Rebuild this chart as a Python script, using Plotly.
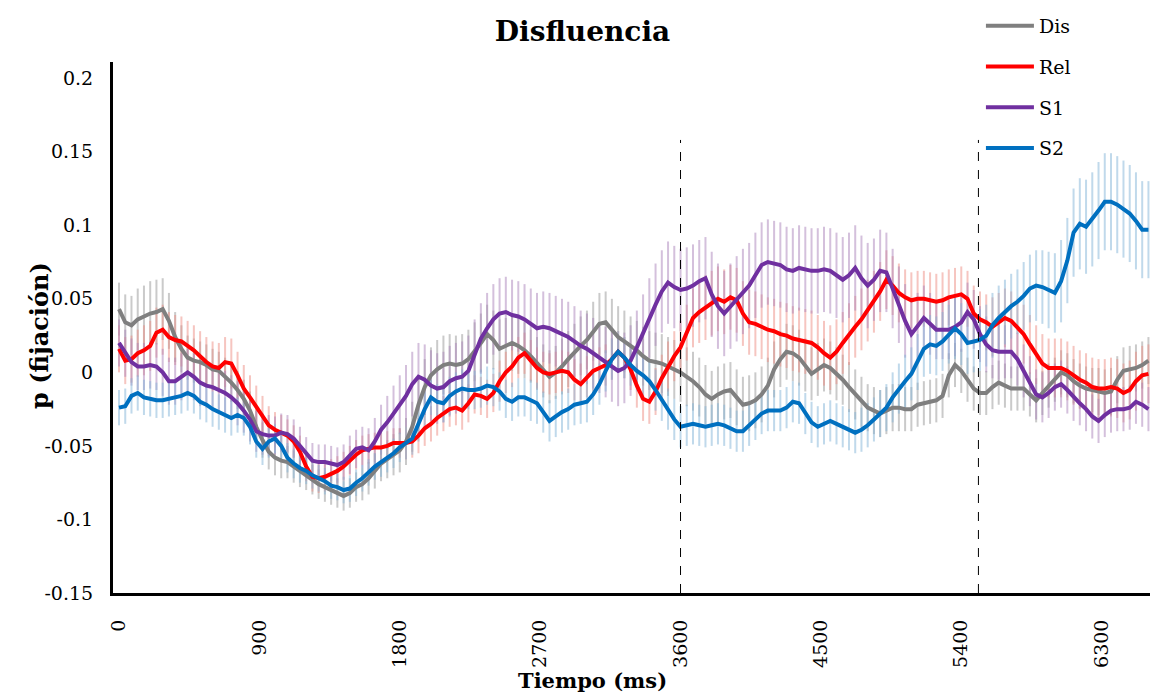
import plotly.graph_objects as go

# Sampling grid of the eye-tracking time course (ms)
time_ms = list(range(0, 6640, 40))

tick_vals = [0, 900, 1800, 2700, 3600, 4500, 5400, 6300]
tick_text = ["0", "900", "1800", "2700", "3600", "4500", "5400", "6300"]
y_ticks = [-0.15, -0.1, -0.05, 0, 0.05, 0.1, 0.15, 0.2]
y_tick_text = ["-0.15", "-0.1", "-0.05", "0", "0.05", "0.1", "0.15", "0.2"]

# Segment boundaries marked with dashed lines
segment_marks = [3600, 5510]
segment_top = 0.158

dis_mean = [
    0.043, 0.034, 0.032, 0.036, 0.038, 0.040, 0.041, 0.043, 0.035, 0.024,
    0.016, 0.010, 0.008, 0.007, 0.005, 0.002, 0.001, -0.003, -0.007, -0.012,
    -0.018, -0.026, -0.037, -0.046, -0.054, -0.058, -0.060, -0.061, -0.064, -0.067,
    -0.070, -0.073, -0.076, -0.078, -0.080, -0.082, -0.084, -0.082, -0.078, -0.076,
    -0.072, -0.067, -0.062, -0.059, -0.056, -0.053, -0.047, -0.037, -0.022, -0.010,
    -0.002, 0.002, 0.005, 0.006, 0.005, 0.006, 0.009, 0.014, 0.020, 0.026,
    0.022, 0.016, 0.018, 0.020, 0.018, 0.015, 0.011, 0.006, 0.001, -0.003,
    0.000, 0.004, 0.009, 0.014, 0.018, 0.022, 0.028, 0.033, 0.034, 0.029,
    0.024, 0.021, 0.018, 0.015, 0.011, 0.008, 0.007, 0.006, 0.004, 0.002,
    0.000, -0.003, -0.006, -0.010, -0.015, -0.018, -0.015, -0.013, -0.012, -0.017,
    -0.022, -0.021, -0.019, -0.015, -0.009, 0.002, 0.009, 0.014, 0.013, 0.010,
    0.005, -0.001, 0.002, 0.005, 0.003, -0.001, -0.005, -0.010, -0.015, -0.020,
    -0.024, -0.026, -0.028, -0.026, -0.024, -0.024, -0.025, -0.025, -0.022, -0.021,
    -0.020, -0.019, -0.016, -0.002, 0.005, 0.001, -0.005, -0.011, -0.014, -0.014,
    -0.010, -0.007, -0.009, -0.011, -0.011, -0.011, -0.015, -0.019, -0.014, -0.009,
    -0.005, 0.000, -0.002, -0.006, -0.009, -0.011, -0.012, -0.013, -0.014, -0.013,
    -0.005, 0.001, 0.002, 0.003, 0.005, 0.008,
]
dis_err = [
    0.018, 0.019, 0.020, 0.021, 0.021, 0.022, 0.022, 0.021, 0.019, 0.017,
    0.016, 0.015, 0.015, 0.014, 0.014, 0.014, 0.013, 0.013, 0.013, 0.013,
    0.013, 0.013, 0.012, 0.012, 0.012, 0.012, 0.012, 0.011, 0.011, 0.011,
    0.010, 0.010, 0.010, 0.010, 0.010, 0.010, 0.010, 0.010, 0.010, 0.011,
    0.011, 0.012, 0.012, 0.013, 0.014, 0.015, 0.016, 0.017, 0.018, 0.019,
    0.019, 0.020, 0.020, 0.020, 0.020, 0.020, 0.020, 0.020, 0.020, 0.020,
    0.020, 0.020, 0.019, 0.019, 0.019, 0.019, 0.018, 0.018, 0.018, 0.018,
    0.018, 0.019, 0.019, 0.019, 0.020, 0.020, 0.020, 0.021, 0.021, 0.021,
    0.021, 0.021, 0.020, 0.020, 0.020, 0.020, 0.020, 0.020, 0.020, 0.020,
    0.020, 0.020, 0.020, 0.020, 0.020, 0.019, 0.019, 0.019, 0.019, 0.019,
    0.019, 0.019, 0.019, 0.019, 0.019, 0.019, 0.019, 0.019, 0.019, 0.019,
    0.018, 0.018, 0.018, 0.018, 0.018, 0.018, 0.017, 0.017, 0.017, 0.017,
    0.016, 0.016, 0.016, 0.016, 0.016, 0.016, 0.015, 0.015, 0.015, 0.015,
    0.015, 0.015, 0.015, 0.015, 0.015, 0.015, 0.015, 0.015, 0.015, 0.015,
    0.015, 0.015, 0.015, 0.015, 0.015, 0.015, 0.015, 0.015, 0.015, 0.015,
    0.015, 0.015, 0.015, 0.015, 0.015, 0.015, 0.015, 0.016, 0.016, 0.016,
    0.016, 0.016, 0.016, 0.016, 0.016, 0.016,
]

rel_mean = [
    0.016, 0.008, 0.009, 0.013, 0.015, 0.018, 0.027, 0.029, 0.024, 0.022,
    0.021, 0.018, 0.015, 0.011, 0.007, 0.004, 0.003, 0.007, 0.006, -0.002,
    -0.011, -0.017, -0.023, -0.029, -0.036, -0.039, -0.041, -0.043, -0.047, -0.054,
    -0.064, -0.071, -0.072, -0.071, -0.069, -0.067, -0.064, -0.060, -0.056, -0.053,
    -0.052, -0.051, -0.051, -0.050, -0.048, -0.048, -0.048, -0.047, -0.043, -0.038,
    -0.035, -0.031, -0.028, -0.025, -0.024, -0.026, -0.021, -0.015, -0.016, -0.018,
    -0.014, -0.006, 0.000, 0.004, 0.010, 0.013, 0.008, 0.003, 0.000, -0.001,
    0.000, 0.001, 0.000, -0.005, -0.008, -0.003, 0.001, 0.003, 0.005, 0.009,
    0.014, 0.010, 0.002, -0.009, -0.018, -0.020, -0.013, -0.004, 0.004, 0.011,
    0.017, 0.027, 0.037, 0.041, 0.044, 0.047, 0.050, 0.048, 0.051, 0.049,
    0.040, 0.034, 0.033, 0.031, 0.029, 0.028, 0.026, 0.025, 0.023, 0.022,
    0.021, 0.020, 0.017, 0.013, 0.010, 0.014, 0.020, 0.026, 0.031, 0.036,
    0.042, 0.048, 0.055, 0.063, 0.059, 0.054, 0.051, 0.049, 0.050, 0.050,
    0.049, 0.048, 0.049, 0.051, 0.052, 0.053, 0.050, 0.040, 0.036, 0.034,
    0.031, 0.034, 0.037, 0.035, 0.030, 0.026, 0.019, 0.012, 0.006, 0.003,
    0.003, 0.003, 0.001, -0.002, -0.005, -0.007, -0.010, -0.011, -0.011, -0.010,
    -0.011, -0.014, -0.012, -0.006, -0.002, -0.001,
]
rel_err = [
    0.016, 0.016, 0.016, 0.016, 0.017, 0.017, 0.017, 0.017, 0.017, 0.017,
    0.017, 0.017, 0.017, 0.017, 0.017, 0.017, 0.017, 0.017, 0.017, 0.016,
    0.016, 0.015, 0.014, 0.013, 0.013, 0.012, 0.012, 0.011, 0.011, 0.011,
    0.010, 0.010, 0.010, 0.010, 0.010, 0.010, 0.010, 0.010, 0.010, 0.010,
    0.010, 0.010, 0.010, 0.010, 0.010, 0.010, 0.011, 0.011, 0.012, 0.012,
    0.012, 0.012, 0.012, 0.012, 0.012, 0.013, 0.013, 0.013, 0.013, 0.013,
    0.013, 0.014, 0.014, 0.014, 0.014, 0.014, 0.014, 0.014, 0.014, 0.014,
    0.014, 0.014, 0.014, 0.014, 0.014, 0.014, 0.014, 0.014, 0.014, 0.014,
    0.014, 0.014, 0.014, 0.015, 0.015, 0.015, 0.016, 0.016, 0.017, 0.017,
    0.018, 0.019, 0.020, 0.021, 0.022, 0.022, 0.022, 0.022, 0.022, 0.022,
    0.022, 0.022, 0.022, 0.022, 0.022, 0.022, 0.022, 0.022, 0.022, 0.022,
    0.022, 0.022, 0.022, 0.022, 0.022, 0.022, 0.021, 0.021, 0.021, 0.021,
    0.021, 0.021, 0.020, 0.020, 0.020, 0.020, 0.019, 0.019, 0.019, 0.019,
    0.019, 0.019, 0.019, 0.019, 0.019, 0.019, 0.019, 0.019, 0.019, 0.019,
    0.020, 0.020, 0.020, 0.020, 0.020, 0.020, 0.020, 0.020, 0.020, 0.020,
    0.020, 0.020, 0.020, 0.020, 0.020, 0.020, 0.020, 0.020, 0.020, 0.020,
    0.020, 0.020, 0.020, 0.020, 0.020, 0.020,
]

s1_mean = [
    0.020, 0.013, 0.007, 0.004, 0.004, 0.005, 0.004, 0.000, -0.006, -0.006,
    -0.003, 0.000, -0.003, -0.007, -0.009, -0.010, -0.012, -0.014, -0.017, -0.021,
    -0.026, -0.032, -0.040, -0.042, -0.043, -0.043, -0.041, -0.042, -0.045, -0.050,
    -0.056, -0.060, -0.061, -0.061, -0.062, -0.063, -0.061, -0.056, -0.052, -0.051,
    -0.053, -0.047, -0.039, -0.034, -0.028, -0.022, -0.016, -0.008, -0.003, -0.005,
    -0.009, -0.011, -0.010, -0.006, -0.004, -0.003, 0.001, 0.012, 0.023, 0.030,
    0.036, 0.040, 0.041, 0.039, 0.038, 0.036, 0.033, 0.030, 0.031, 0.030,
    0.028, 0.026, 0.024, 0.021, 0.018, 0.016, 0.013, 0.010, 0.007, 0.004,
    0.001, 0.003, 0.008, 0.017, 0.027, 0.037, 0.046, 0.055, 0.061, 0.058,
    0.056, 0.057, 0.059, 0.062, 0.064, 0.053, 0.045, 0.040, 0.045, 0.050,
    0.055, 0.059, 0.066, 0.073, 0.075, 0.074, 0.073, 0.070, 0.069, 0.071,
    0.070, 0.069, 0.069, 0.070, 0.069, 0.066, 0.063, 0.066, 0.071, 0.064,
    0.059, 0.063, 0.069, 0.068, 0.057, 0.046, 0.035, 0.026, 0.031, 0.037,
    0.033, 0.029, 0.029, 0.029, 0.031, 0.034, 0.041, 0.036, 0.026, 0.019,
    0.015, 0.014, 0.014, 0.014, 0.009, 0.001, -0.006, -0.015, -0.017, -0.014,
    -0.010, -0.008, -0.012, -0.017, -0.021, -0.025, -0.030, -0.033, -0.029, -0.026,
    -0.025, -0.025, -0.024, -0.020, -0.022, -0.025,
]
s1_err = [
    0.016, 0.016, 0.016, 0.016, 0.016, 0.016, 0.016, 0.016, 0.016, 0.016,
    0.016, 0.016, 0.016, 0.016, 0.015, 0.015, 0.015, 0.015, 0.015, 0.015,
    0.015, 0.015, 0.014, 0.014, 0.014, 0.013, 0.013, 0.013, 0.013, 0.013,
    0.012, 0.012, 0.012, 0.012, 0.012, 0.012, 0.012, 0.013, 0.013, 0.014,
    0.015, 0.016, 0.017, 0.018, 0.019, 0.020, 0.021, 0.022, 0.023, 0.024,
    0.024, 0.024, 0.024, 0.024, 0.024, 0.024, 0.024, 0.024, 0.024, 0.024,
    0.024, 0.024, 0.024, 0.024, 0.024, 0.024, 0.024, 0.024, 0.024, 0.024,
    0.024, 0.024, 0.024, 0.024, 0.024, 0.024, 0.024, 0.024, 0.024, 0.024,
    0.024, 0.024, 0.024, 0.025, 0.026, 0.027, 0.028, 0.028, 0.028, 0.028,
    0.028, 0.028, 0.028, 0.028, 0.028, 0.029, 0.029, 0.029, 0.029, 0.029,
    0.029, 0.029, 0.029, 0.029, 0.029, 0.029, 0.029, 0.029, 0.029, 0.029,
    0.029, 0.029, 0.029, 0.029, 0.029, 0.029, 0.029, 0.029, 0.029, 0.029,
    0.029, 0.028, 0.028, 0.027, 0.027, 0.026, 0.025, 0.024, 0.023, 0.022,
    0.021, 0.020, 0.020, 0.020, 0.020, 0.020, 0.020, 0.020, 0.019, 0.019,
    0.019, 0.019, 0.018, 0.018, 0.018, 0.018, 0.017, 0.017, 0.017, 0.017,
    0.016, 0.016, 0.016, 0.016, 0.015, 0.015, 0.015, 0.015, 0.015, 0.015,
    0.015, 0.015, 0.015, 0.015, 0.015, 0.015,
]

s2_mean = [
    -0.024, -0.023, -0.016, -0.014, -0.017, -0.018, -0.019, -0.019, -0.018, -0.017,
    -0.016, -0.014, -0.016, -0.020, -0.022, -0.025, -0.027, -0.029, -0.031, -0.029,
    -0.031, -0.037, -0.047, -0.052, -0.047, -0.045, -0.050, -0.058, -0.062, -0.065,
    -0.067, -0.070, -0.072, -0.074, -0.077, -0.078, -0.080, -0.079, -0.075, -0.072,
    -0.068, -0.064, -0.061, -0.058, -0.055, -0.051, -0.048, -0.045, -0.035, -0.025,
    -0.017, -0.020, -0.021, -0.016, -0.013, -0.011, -0.012, -0.012, -0.011, -0.009,
    -0.010, -0.013, -0.018, -0.020, -0.017, -0.017, -0.019, -0.021, -0.027, -0.033,
    -0.030, -0.027, -0.025, -0.022, -0.021, -0.020, -0.015, -0.008, 0.001, 0.009,
    0.014, 0.010, 0.005, 0.001, -0.002, -0.006, -0.012, -0.019, -0.025, -0.032,
    -0.037, -0.036, -0.035, -0.036, -0.037, -0.036, -0.035, -0.036, -0.038, -0.040,
    -0.040, -0.036, -0.032, -0.028, -0.026, -0.026, -0.026, -0.024, -0.020, -0.021,
    -0.028, -0.034, -0.037, -0.035, -0.033, -0.035, -0.037, -0.039, -0.041, -0.039,
    -0.036, -0.032, -0.028, -0.024, -0.017, -0.011, -0.006, -0.001, 0.007, 0.016,
    0.019, 0.018, 0.021, 0.026, 0.030, 0.026, 0.020, 0.021, 0.022, 0.025,
    0.032, 0.037, 0.041, 0.045, 0.048, 0.052, 0.057, 0.059, 0.058, 0.056,
    0.054, 0.062, 0.076, 0.095, 0.101, 0.099, 0.104, 0.110, 0.116, 0.116,
    0.114, 0.111, 0.108, 0.103, 0.097, 0.097,
]
s2_err = [
    0.012, 0.012, 0.012, 0.012, 0.012, 0.012, 0.012, 0.012, 0.012, 0.012,
    0.012, 0.012, 0.012, 0.012, 0.012, 0.012, 0.012, 0.012, 0.012, 0.012,
    0.012, 0.012, 0.011, 0.011, 0.011, 0.010, 0.010, 0.010, 0.010, 0.010,
    0.009, 0.009, 0.009, 0.009, 0.009, 0.009, 0.009, 0.009, 0.009, 0.009,
    0.009, 0.009, 0.010, 0.010, 0.010, 0.010, 0.011, 0.011, 0.012, 0.012,
    0.012, 0.012, 0.013, 0.013, 0.013, 0.013, 0.013, 0.013, 0.013, 0.013,
    0.013, 0.013, 0.013, 0.013, 0.013, 0.013, 0.014, 0.014, 0.014, 0.014,
    0.014, 0.014, 0.014, 0.014, 0.014, 0.014, 0.014, 0.014, 0.014, 0.014,
    0.014, 0.014, 0.014, 0.014, 0.014, 0.014, 0.014, 0.014, 0.014, 0.014,
    0.014, 0.014, 0.014, 0.014, 0.014, 0.014, 0.014, 0.014, 0.014, 0.014,
    0.014, 0.014, 0.014, 0.014, 0.014, 0.014, 0.014, 0.014, 0.014, 0.014,
    0.014, 0.014, 0.014, 0.014, 0.014, 0.014, 0.014, 0.014, 0.014, 0.015,
    0.015, 0.015, 0.016, 0.016, 0.017, 0.017, 0.018, 0.018, 0.019, 0.019,
    0.020, 0.020, 0.020, 0.020, 0.021, 0.021, 0.021, 0.021, 0.021, 0.021,
    0.022, 0.022, 0.022, 0.022, 0.022, 0.023, 0.023, 0.024, 0.025, 0.026,
    0.027, 0.028, 0.029, 0.030, 0.031, 0.032, 0.032, 0.033, 0.033, 0.033,
    0.033, 0.033, 0.033, 0.033, 0.033, 0.033,
]

series = [
    ("Dis", dis_mean, dis_err, "#7f7f7f", "rgba(150,150,150,0.5)"),
    ("Rel", rel_mean, rel_err, "#ff0000", "rgba(238,140,130,0.5)"),
    ("S1", s1_mean, s1_err, "#7030a0", "rgba(170,130,185,0.5)"),
    ("S2", s2_mean, s2_err, "#0070c0", "rgba(130,180,215,0.5)"),
]

FONT = "DejaVu Serif"

fig = go.Figure()

# Standard-error bars underneath all the mean lines
for name, mean, err, _, bar_color in series:
    fig.add_trace(go.Scatter(
        x=time_ms, y=mean, mode="markers",
        marker=dict(size=1, opacity=0),
        error_y=dict(type="data", array=err, symmetric=True, visible=True,
                     color=bar_color, thickness=2, width=0),
        showlegend=False, hoverinfo="skip",
    ))

# Mean fixation-probability curves
for name, mean, err, line_color, _ in series:
    fig.add_trace(go.Scatter(
        x=time_ms, y=mean, mode="lines", name=name,
        line=dict(color=line_color, width=4, shape="linear"),
        legendgroup=name,
    ))

# Dashed boundaries between segments
for t in segment_marks:
    fig.add_shape(type="line", x0=t, x1=t, y0=-0.15, y1=segment_top,
                  xref="x", yref="y",
                  line=dict(color="black", width=1, dash="dash"))

# Axis titles
fig.add_annotation(text="<b>p (fijación)</b>", textangle=-90,
                   xref="paper", yref="paper", x=-0.0704, y=0.486,
                   xanchor="center", yanchor="middle", showarrow=False,
                   font=dict(family=FONT, size=24, color="black"))
fig.add_annotation(text="<b>Tiempo (ms)</b>",
                   xref="paper", yref="paper", x=0.462, y=-0.164,
                   xanchor="center", yanchor="middle", showarrow=False,
                   font=dict(family=FONT, size=21, color="black"))

fig.update_layout(
    width=1165, height=698,
    margin=dict(l=113, r=15, t=62, b=105, autoexpand=False),
    paper_bgcolor="white", plot_bgcolor="white",
    font=dict(family=FONT, color="black", size=19),
    title=dict(text="<b>Disfluencia</b>", x=0.5, xanchor="center",
               y=0.955, yanchor="middle",
               font=dict(family=FONT, size=28, color="black")),
    showlegend=True,
    legend=dict(x=0.842, y=0.99, xref="container", yref="container",
                xanchor="left", yanchor="top",
                font=dict(family=FONT, size=19, color="black"),
                itemwidth=48, tracegroupgap=13,
                bgcolor="rgba(0,0,0,0)"),
    xaxis=dict(
        range=[-38.5, 6610], automargin=False,
        tickmode="array", tickvals=tick_vals, ticktext=tick_text,
        tickangle=-90, ticks="", ticklabelstandoff=16,
        showline=True, linecolor="black", linewidth=3,
        showgrid=False, zeroline=False,
        tickfont=dict(family=FONT, size=19, color="black"),
    ),
    yaxis=dict(
        range=[-0.15, 0.211], automargin=False,
        tickmode="array", tickvals=y_ticks, ticktext=y_tick_text,
        ticks="", ticklabelstandoff=13,
        showline=True, linecolor="black", linewidth=3,
        showgrid=False, zeroline=False,
        tickfont=dict(family=FONT, size=19, color="black"),
    ),
)

fig.write_html("out.html")
